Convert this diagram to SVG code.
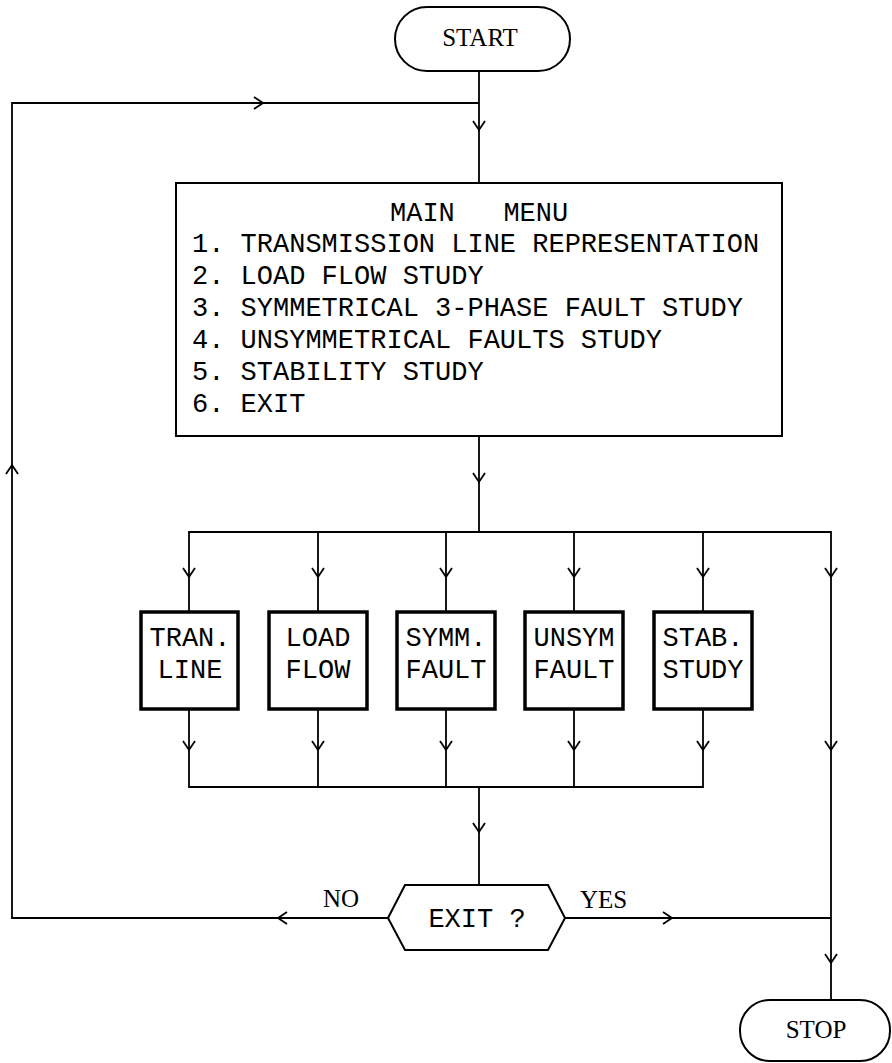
<svg xmlns="http://www.w3.org/2000/svg" xmlns:xlink="http://www.w3.org/1999/xlink" width="892" height="1063" viewBox="0 0 892 1063">
<style>
.bg{fill:#fff}
.ln{fill:none;stroke:#000;stroke-width:1.8}
.term{fill:#fff;stroke:#000;stroke-width:2}
.menu{fill:#fff;stroke:#000;stroke-width:2}
.proc{fill:#fff;stroke:#000;stroke-width:3.5}
.mono{font-family:"Liberation Mono","DejaVu Sans Mono",monospace;font-size:27px;fill:#000}
.serif{font-family:"Liberation Serif","DejaVu Serif",serif;font-size:25px;fill:#000}
</style>
<defs>
<path id="ah" d="M-6,-9 L0,0 L6,-9" fill="none" stroke="#000" stroke-width="1.8"/>
</defs>
<rect class="bg" x="0" y="0" width="892" height="1063"/>

<g id="connectors">
<path class="ln" d="M479,71 V183"/>
<path class="ln" d="M388,918 H12 V103 H479"/>
<path class="ln" d="M479,436 V532"/>
<path class="ln" d="M189,612 V532 H831 V1000"/>
<path class="ln" d="M318,532 V612 M446,532 V612 M574,532 V612 M703,532 V612"/>
<path class="ln" d="M189,709 V787 H703 V709 M318,709 V787 M446,709 V787 M574,709 V787"/>
<path class="ln" d="M479,787 V885"/>
<path class="ln" d="M565,918 H831"/>
<use xlink:href="#ah" transform="translate(479,130)"/>
<use xlink:href="#ah" transform="translate(479,482)"/>
<use xlink:href="#ah" transform="translate(263,103) rotate(-90)"/>
<use xlink:href="#ah" transform="translate(12,465) rotate(180)"/>
<use xlink:href="#ah" transform="translate(278,918) rotate(90)"/>
<use xlink:href="#ah" transform="translate(672,918) rotate(-90)"/>
<use xlink:href="#ah" transform="translate(189,577)"/>
<use xlink:href="#ah" transform="translate(318,577)"/>
<use xlink:href="#ah" transform="translate(446,577)"/>
<use xlink:href="#ah" transform="translate(574,577)"/>
<use xlink:href="#ah" transform="translate(703,577)"/>
<use xlink:href="#ah" transform="translate(831,577)"/>
<use xlink:href="#ah" transform="translate(189,750)"/>
<use xlink:href="#ah" transform="translate(318,750)"/>
<use xlink:href="#ah" transform="translate(446,750)"/>
<use xlink:href="#ah" transform="translate(574,750)"/>
<use xlink:href="#ah" transform="translate(703,750)"/>
<use xlink:href="#ah" transform="translate(831,750)"/>
<use xlink:href="#ah" transform="translate(479,832)"/>
<use xlink:href="#ah" transform="translate(831,963)"/>
<text class="serif" x="323" y="907">NO</text>
<text class="serif" x="580" y="908">YES</text>
</g>

<g id="start">
<rect class="term" x="395" y="7" width="175" height="64" rx="32" ry="32"/>
<text class="serif" x="480" y="46" text-anchor="middle">START</text>
</g>

<g id="main-menu">
<rect class="menu" x="176" y="183" width="606" height="253"/>
<text class="mono" x="390" y="221" xml:space="preserve">MAIN   MENU</text>
<text class="mono" x="192" y="252">1. TRANSMISSION LINE REPRESENTATION</text>
<text class="mono" x="192" y="284">2. LOAD FLOW STUDY</text>
<text class="mono" x="192" y="316">3. SYMMETRICAL 3-PHASE FAULT STUDY</text>
<text class="mono" x="192" y="348">4. UNSYMMETRICAL FAULTS STUDY</text>
<text class="mono" x="192" y="380">5. STABILITY STUDY</text>
<text class="mono" x="192" y="412">6. EXIT</text>
</g>

<g id="tran-line">
<rect class="proc" x="141" y="612" width="97" height="97"/>
<text class="mono" x="190" y="646" text-anchor="middle">TRAN.</text>
<text class="mono" x="190" y="678" text-anchor="middle">LINE</text>
</g>
<g id="load-flow">
<rect class="proc" x="269" y="612" width="98" height="97"/>
<text class="mono" x="318" y="646" text-anchor="middle">LOAD</text>
<text class="mono" x="318" y="678" text-anchor="middle">FLOW</text>
</g>
<g id="symm-fault">
<rect class="proc" x="397" y="612" width="98" height="97"/>
<text class="mono" x="446" y="646" text-anchor="middle">SYMM.</text>
<text class="mono" x="446" y="678" text-anchor="middle">FAULT</text>
</g>
<g id="unsym-fault">
<rect class="proc" x="525" y="612" width="98" height="97"/>
<text class="mono" x="574" y="646" text-anchor="middle">UNSYM</text>
<text class="mono" x="574" y="678" text-anchor="middle">FAULT</text>
</g>
<g id="stab-study">
<rect class="proc" x="654" y="612" width="98" height="97"/>
<text class="mono" x="703" y="646" text-anchor="middle">STAB.</text>
<text class="mono" x="703" y="678" text-anchor="middle">STUDY</text>
</g>

<g id="exit-decision">
<polygon class="term" points="388,918 405,885 548,885 565,918 548,950 405,950"/>
<text class="mono" x="477" y="927" text-anchor="middle" xml:space="preserve">EXIT ?</text>
</g>

<g id="stop">
<rect class="term" x="740" y="1000" width="150" height="61" rx="30" ry="30"/>
<text class="serif" x="816" y="1038" text-anchor="middle">STOP</text>
</g>
</svg>
